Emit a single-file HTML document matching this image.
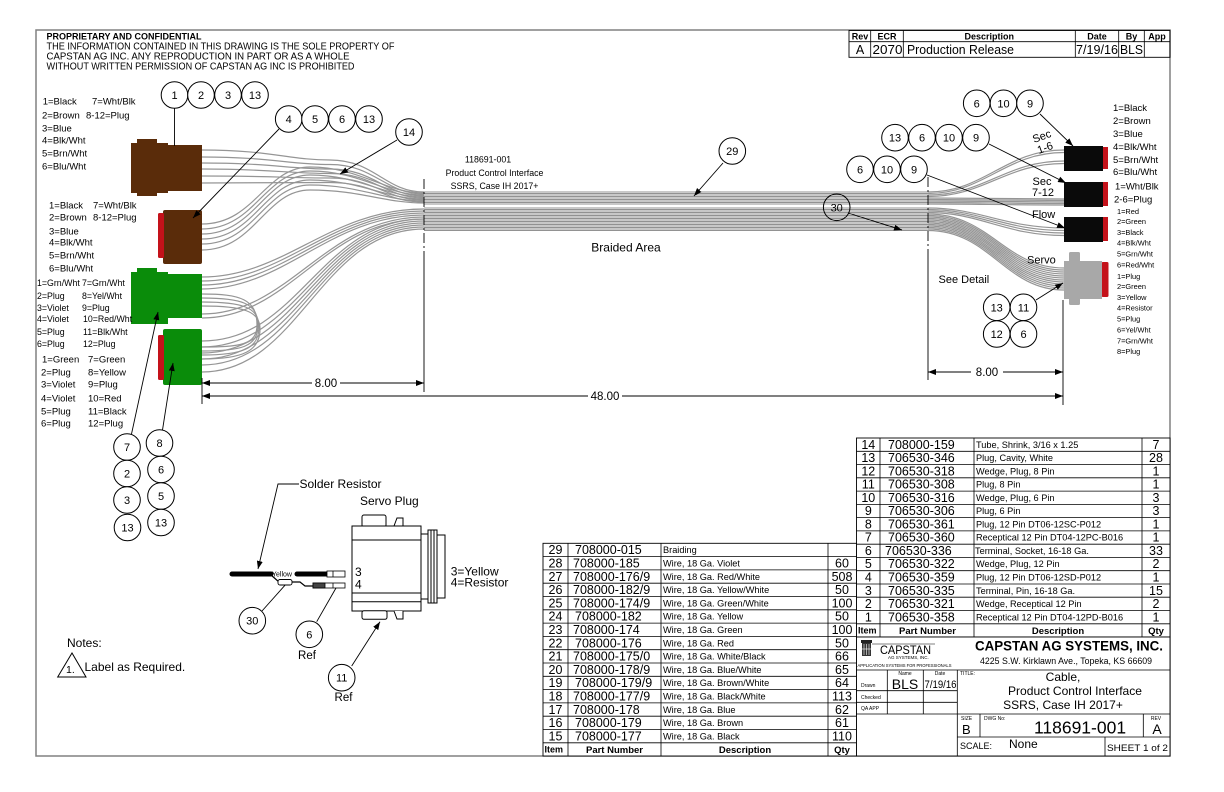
<!DOCTYPE html>
<html><head><meta charset="utf-8"><style>
html,body{margin:0;padding:0;background:#fff;}
svg{display:block;}
text{font-family:"Liberation Sans",Arial,sans-serif;fill:#000;}
.b{fill:#fff;stroke:#000;stroke-width:1}
.bt{font-size:11px;text-anchor:middle}
.w{fill:none;stroke:#959595;stroke-width:1.2}
.wb{fill:none;stroke:#929292;stroke-width:1}
.ln{stroke:#000;stroke-width:0.9;fill:none}
.tl{stroke:#000;stroke-width:0.8}
.pn{font-size:12.5px}
.ds{font-size:9.2px}
.qc{font-size:12.5px;text-anchor:middle}
.hd{font-size:9.5px;font-weight:bold}
.lb{font-size:9.5px}
.sm{font-size:7.4px}
</style></head><body>
<svg width="1224" height="792" viewBox="0 0 1224 792" xmlns="http://www.w3.org/2000/svg">
<defs>
<marker id="ah" markerWidth="8" markerHeight="6" refX="8" refY="3" orient="auto" markerUnits="userSpaceOnUse"><path d="M0,0 L8,3 L0,6 Z" fill="#000"/></marker>
</defs>

<!-- border -->
<rect x="36" y="30" width="1134" height="726" fill="none" stroke="#808080" stroke-width="1.5"/>

<!-- header text -->
<text x="46.5" y="39.5" font-size="9.5" font-weight="bold" textLength="155" lengthAdjust="spacingAndGlyphs">PROPRIETARY AND CONFIDENTIAL</text>
<text x="46.5" y="49.5" font-size="10" textLength="348" lengthAdjust="spacingAndGlyphs">THE INFORMATION CONTAINED IN THIS DRAWING IS THE SOLE PROPERTY OF</text>
<text x="46.5" y="59.5" font-size="10" textLength="303" lengthAdjust="spacingAndGlyphs">CAPSTAN AG INC. ANY REPRODUCTION IN PART OR AS A WHOLE</text>
<text x="46.5" y="69.5" font-size="10" textLength="308" lengthAdjust="spacingAndGlyphs">WITHOUT WRITTEN PERMISSION OF CAPSTAN AG INC IS PROHIBITED</text>

<!-- rev table -->
<rect x="849" y="30.5" width="321" height="26.8" fill="none" stroke="#000" stroke-width="0.9"/>
<line class="tl" x1="849" y1="41.7" x2="1170" y2="41.7"/>
<line class="tl" x1="870.7" y1="30.5" x2="870.7" y2="57.3"/>
<line class="tl" x1="903.3" y1="30.5" x2="903.3" y2="57.3"/>
<line class="tl" x1="1075.3" y1="30.5" x2="1075.3" y2="57.3"/>
<line class="tl" x1="1118.7" y1="30.5" x2="1118.7" y2="57.3"/>
<line class="tl" x1="1144.3" y1="30.5" x2="1144.3" y2="57.3"/>
<g font-size="9" font-weight="bold" text-anchor="middle">
<text x="860" y="39.7">Rev</text><text x="887" y="39.7">ECR</text><text x="989.3" y="39.7">Description</text><text x="1097" y="39.7">Date</text><text x="1131.5" y="39.7">By</text><text x="1157" y="39.7">App</text>
</g>
<g font-size="12.5">
<text x="860" y="54" text-anchor="middle">A</text>
<text x="872.5" y="54" textLength="30" lengthAdjust="spacingAndGlyphs">2070</text>
<text x="907" y="54" textLength="107" lengthAdjust="spacingAndGlyphs">Production Release</text>
<text x="1076" y="54" textLength="42" lengthAdjust="spacingAndGlyphs">7/19/16</text>
<text x="1120" y="54" textLength="23" lengthAdjust="spacingAndGlyphs">BLS</text>
</g>

<!-- WIRES left fan -->
<g class="w">
<path d="M202,150 C270,150 290,160 330,160 C375,160 385,192 424,192"/>
<path d="M202,157 C270,157 290,164.5 330,164.5 C375,164.5 385,194 424,194"/>
<path d="M202,163 C270,163 290,169 330,169 C375,169 385,196 424,196"/>
<path d="M202,169 C270,169 290,173.5 330,173.5 C375,173.5 385,198 424,198"/>
<path d="M202,176 C270,176 290,178 330,178 C375,178 385,200 424,200"/>
<path d="M202,183 C270,183 290,182.5 330,182.5 C375,182.5 385,202 424,202"/>
<path d="M202,224 C255,224 265,167 310,167 C360,167 385,193 424,193"/>
<path d="M202,229 C255,229 265,171 310,171 C360,171 385,195 424,195"/>
<path d="M202,234 C255,234 265,175 310,175 C360,175 385,197 424,197"/>
<path d="M202,239 C255,239 265,180 310,180 C360,180 385,199 424,199"/>
<path d="M202,244 C255,244 265,185 310,185 C360,185 385,201 424,201"/>
<path d="M202,250 C255,250 265,190 310,190 C360,190 385,203 424,203"/>
<path d="M202,277 C285,277 330,209 424,209"/>
<path d="M202,281 C285,281 330,211 424,211"/>
<path d="M202,285 C285,285 330,213 424,213"/>
<path d="M202,289 C285,289 330,215 424,215"/>
<path d="M202,314 C290,314 325,217 424,217"/>
<path d="M202,318 C290,318 325,219 424,219"/>
<path d="M202,294 C240,294 257,299 257,325 C257,345 240,347 202,347"/>
<path d="M202,298 C241,298 258,303 258,325 C258,347 241,351 202,351"/>
<path d="M202,302 C242,302 259,307 259,327 C259,349 242,355 202,355"/>
<path d="M202,306 C243,306 260,311 260,329 C260,351 243,359 202,359"/>
<path d="M202,341 C300,341 320,219 424,219"/>
<path d="M202,347 C300,347 320,221 424,221"/>
<path d="M202,353 C300,353 320,223 424,223"/>
<path d="M202,359 C300,359 320,225 424,225"/>
<path d="M202,365 C300,365 320,227 424,227"/>
<path d="M202,372 C300,372 320,229 424,229"/>
</g>

<!-- middle bundle -->
<g class="wb">
<line x1="424" y1="192" x2="928" y2="192"/><line x1="424" y1="193.5" x2="928" y2="193.5"/><line x1="424" y1="195" x2="928" y2="195"/>
<line x1="424" y1="196.5" x2="928" y2="196.5"/><line x1="424" y1="198" x2="928" y2="198"/><line x1="424" y1="199.5" x2="928" y2="199.5"/>
<line x1="424" y1="201" x2="928" y2="201"/><line x1="424" y1="202.5" x2="928" y2="202.5"/><line x1="424" y1="204" x2="928" y2="204"/>
<line x1="424" y1="208" x2="928" y2="208"/><line x1="424" y1="209.5" x2="928" y2="209.5"/><line x1="424" y1="211" x2="928" y2="211"/>
<line x1="424" y1="212.5" x2="928" y2="212.5"/><line x1="424" y1="214" x2="928" y2="214"/><line x1="424" y1="215.5" x2="928" y2="215.5"/>
<line x1="424" y1="217" x2="928" y2="217"/><line x1="424" y1="218.5" x2="928" y2="218.5"/><line x1="424" y1="220" x2="928" y2="220"/>
<line x1="424" y1="221.5" x2="928" y2="221.5"/><line x1="424" y1="223" x2="928" y2="223"/><line x1="424" y1="224.5" x2="928" y2="224.5"/>
<line x1="424" y1="226" x2="928" y2="226"/><line x1="424" y1="227.5" x2="928" y2="227.5"/><line x1="424" y1="229" x2="928" y2="229"/>
<line x1="424" y1="230.5" x2="928" y2="230.5"/>
</g>

<!-- right fan -->
<g class="w">
<path d="M928,192 C985,192 1005,150 1064,150"/>
<path d="M928,193.5 C985,193.5 1005,152.5 1064,152.5"/>
<path d="M928,195 C985,195 1005,161 1064,161"/>
<path d="M928,196.5 C985,196.5 1005,163.5 1064,163.5"/>
<path d="M928,198 L1064,199"/>
<path d="M928,199.5 L1064,200.5"/>
<path d="M928,201 L1064,202"/>
<path d="M928,202.5 C980,202.5 1000,203.5 1064,203.5"/>
<path d="M928,204 C980,204 1000,205 1064,205"/>
<path d="M928,208 C980,208 1005,228 1064,228"/>
<path d="M928,209.5 C980,209.5 1005,230.5 1064,230.5"/>
<path d="M928,211 C980,211 1005,233 1064,233"/>
<path d="M928,212.5 C980,212.5 1005,235.5 1064,235.5"/>
<path d="M928,214 C990,214 1005,268 1064,268"/>
<path d="M928,215.5 C990,215.5 1005,270 1064,270"/>
<path d="M928,217 C990,217 1005,272 1064,272"/>
<path d="M928,218.5 C990,218.5 1005,274 1064,274"/>
<path d="M928,220 C990,220 1005,276 1064,276"/>
<path d="M928,221.5 C990,221.5 1005,278 1064,278"/>
<path d="M928,223 C990,223 1005,280 1064,280"/>
<path d="M928,224.5 C990,224.5 1005,282 1064,282"/>
<path d="M928,226 C990,226 1005,284 1064,284"/>
<path d="M928,227.5 C990,227.5 1005,286 1064,286"/>
<path d="M928,229 C990,229 1005,288 1064,288"/>
<path d="M928,230.5 C990,230.5 1005,290 1064,290"/>
</g>

<!-- left connectors -->
<g fill="#5a2c0a">
<rect x="131" y="143" width="37" height="50"/>
<rect x="137" y="139" width="20" height="5"/>
<rect x="137" y="192" width="20" height="4"/>
<rect x="167" y="145" width="35" height="46"/>
<rect x="163" y="210" width="39" height="54" rx="2"/>
</g>
<rect x="158" y="213" width="6" height="45" rx="1.5" fill="#c4121a"/>
<g fill="#0a8c0a">
<rect x="131" y="272" width="37" height="52"/>
<rect x="137" y="268" width="20" height="5"/>
<rect x="167" y="274" width="35" height="44"/>
<rect x="163" y="329" width="39" height="56" rx="2"/>
</g>
<rect x="158" y="335" width="6" height="45" rx="1.5" fill="#c4121a"/>

<!-- right connectors -->
<g fill="#0a0a0a">
<rect x="1064" y="146" width="39" height="25"/>
<rect x="1064" y="182" width="39" height="25"/>
<rect x="1064" y="217" width="39" height="25"/>
</g>
<g fill="#c4121a">
<rect x="1103" y="147" width="5" height="22"/>
<rect x="1103" y="182" width="5" height="24"/>
<rect x="1103" y="217" width="5" height="24"/>
<rect x="1101.5" y="262" width="7" height="35" rx="1.5"/>
</g>
<g fill="#a8a8a8">
<rect x="1064" y="261" width="38" height="38"/>
<rect x="1069" y="252" width="11" height="10" rx="1.5"/>
<rect x="1069" y="298" width="11" height="7" rx="1.5"/>
</g>

<!-- left labels -->
<g class="lb">
<text x="42.7" y="104.5">1=Black</text><text x="92" y="104.5">7=Wht/Blk</text>
<text x="42" y="118.5">2=Brown</text><text x="86" y="118.5">8-12=Plug</text>
<text x="42" y="131.5">3=Blue</text>
<text x="42" y="143.5">4=Blk/Wht</text>
<text x="42" y="156.5">5=Brn/Wht</text>
<text x="42" y="169.5">6=Blu/Wht</text>

<text x="49" y="208.5">1=Black</text><text x="93" y="208.5">7=Wht/Blk</text>
<text x="49" y="220.5">2=Brown</text><text x="93" y="220.5">8-12=Plug</text>
<text x="49" y="234.5">3=Blue</text>
<text x="49" y="245.5">4=Blk/Wht</text>
<text x="49" y="258.5">5=Brn/Wht</text>
<text x="49" y="271.5">6=Blu/Wht</text>
</g>
<g font-size="8.8">
<text x="37" y="286">1=Grn/Wht</text><text x="82" y="286">7=Grn/Wht</text>
<text x="37" y="299">2=Plug</text><text x="82" y="299">8=Yel/Wht</text>
<text x="37" y="311">3=Violet</text><text x="82" y="311">9=Plug</text>
<text x="37" y="322">4=Violet</text><text x="83" y="322">10=Red/Wht</text>
<text x="37" y="335">5=Plug</text><text x="83" y="335">11=Blk/Wht</text>
<text x="37" y="347">6=Plug</text><text x="83" y="347">12=Plug</text>
</g>
<g class="lb">
<text x="42" y="362.5">1=Green</text><text x="88" y="362.5">7=Green</text>
<text x="41" y="375.5">2=Plug</text><text x="88" y="375.5">8=Yellow</text>
<text x="41" y="387.5">3=Violet</text><text x="88" y="387.5">9=Plug</text>
<text x="41" y="401.5">4=Violet</text><text x="88" y="401.5">10=Red</text>
<text x="41" y="414.5">5=Plug</text><text x="88" y="414.5">11=Black</text>
<text x="41" y="426.5">6=Plug</text><text x="88" y="426.5">12=Plug</text>
</g>

<!-- right labels -->
<g class="lb">
<text x="1113" y="111">1=Black</text>
<text x="1113" y="124">2=Brown</text>
<text x="1113" y="137">3=Blue</text>
<text x="1113" y="150">4=Blk/Wht</text>
<text x="1113" y="163">5=Brn/Wht</text>
<text x="1113" y="175">6=Blu/Wht</text>
<text x="1115" y="189.5">1=Wht/Blk</text>
<text x="1114" y="202.5">2-6=Plug</text>
</g>
<g class="sm">
<text x="1117" y="213.8">1=Red</text>
<text x="1117" y="223.8">2=Green</text>
<text x="1117" y="234.8">3=Black</text>
<text x="1117" y="245.5">4=Blk/Wht</text>
<text x="1117" y="256.5">5=Grn/Wht</text>
<text x="1117" y="267.5">6=Red/Wht</text>
<text x="1117" y="278.8">1=Plug</text>
<text x="1117" y="288.8">2=Green</text>
<text x="1117" y="299.8">3=Yellow</text>
<text x="1117" y="310.5">4=Resistor</text>
<text x="1117" y="321.5">5=Plug</text>
<text x="1117" y="332.5">6=Yel/Wht</text>
<text x="1117" y="343.5">7=Grn/Wht</text>
<text x="1117" y="354">8=Plug</text>
</g>

<!-- right connector names -->
<g font-size="11">
<text x="1041.7" y="140" text-anchor="middle" transform="rotate(-20 1041.7 136)">Sec</text>
<text x="1045" y="151.5" text-anchor="middle" transform="rotate(-20 1045 147.7)">1-6</text>
<text x="1042" y="185" text-anchor="middle">Sec</text>
<text x="1043" y="196" text-anchor="middle">7-12</text>
<text x="1032" y="218">Flow</text>
<text x="1027" y="263.5">Servo</text>
<text x="938.5" y="283">See Detail</text>
</g>

<!-- center labels -->
<g font-size="8.8" text-anchor="middle">
<text x="488" y="162.5">118691-001</text>
<text x="494.5" y="176">Product Control Interface</text>
<text x="494.5" y="189">SSRS, Case IH 2017+</text>
</g>
<text x="626" y="251.5" font-size="12" text-anchor="middle">Braided Area</text>

<!-- dimension / extension lines -->
<g stroke="#000" stroke-width="0.9" fill="none">
<line x1="202" y1="378" x2="202" y2="404"/>
<line x1="424" y1="179" x2="424" y2="253" stroke-dasharray="10,3,2,3"/>
<line x1="424" y1="253" x2="424" y2="392"/>
<line x1="928" y1="177" x2="928" y2="258" stroke-dasharray="10,3,2,3"/>
<line x1="928" y1="258" x2="928" y2="380"/>
<line x1="1063" y1="300" x2="1063" y2="405"/>
<line x1="312" y1="383" x2="202" y2="383" marker-end="url(#ah)"/>
<line x1="340" y1="383" x2="424" y2="383" marker-end="url(#ah)"/>
<line x1="588" y1="396" x2="202" y2="396" marker-end="url(#ah)"/>
<line x1="622" y1="396" x2="1063" y2="396" marker-end="url(#ah)"/>
<line x1="971" y1="372" x2="928" y2="372" marker-end="url(#ah)"/>
<line x1="1003" y1="372" x2="1063" y2="372" marker-end="url(#ah)"/>
</g>
<g font-size="11.5" text-anchor="middle">
<text x="326" y="387">8.00</text>
<text x="605" y="400">48.00</text>
<text x="987" y="376">8.00</text>
</g>

<!-- leaders -->
<g stroke="#000" stroke-width="0.9" fill="none">
<line x1="174.5" y1="108" x2="174.5" y2="146"/>
<line x1="279" y1="129" x2="193" y2="218" marker-end="url(#ah)"/>
<line x1="397" y1="140" x2="340" y2="174" marker-end="url(#ah)"/>
<line x1="131.5" y1="434" x2="158" y2="312" marker-end="url(#ah)"/>
<line x1="162.5" y1="430" x2="173" y2="363" marker-end="url(#ah)"/>
<line x1="1040" y1="114" x2="1073" y2="146" marker-end="url(#ah)"/>
<line x1="989" y1="144" x2="1066" y2="183" marker-end="url(#ah)"/>
<line x1="927" y1="175" x2="1065" y2="228" marker-end="url(#ah)"/>
<line x1="1036" y1="300" x2="1063" y2="283" marker-end="url(#ah)"/>
<line x1="723" y1="163" x2="694" y2="196" marker-end="url(#ah)"/>
<line x1="848" y1="213" x2="902" y2="230" marker-end="url(#ah)"/>
<polyline points="299,484 278,484 258,569" marker-end="url(#ah)"/>
<line x1="262" y1="611" x2="286.7" y2="583.3"/>
<line x1="316.7" y1="621.7" x2="338.3" y2="584"/>
<line x1="351.7" y1="666" x2="380" y2="621.7" marker-end="url(#ah)"/>
</g>

<!-- balloons -->
<g>
<circle class="b" cx="174.5" cy="95" r="13.3"/><text class="bt" x="174.5" y="99">1</text>
<circle class="b" cx="201" cy="95" r="13.3"/><text class="bt" x="201" y="99">2</text>
<circle class="b" cx="228" cy="95" r="13.3"/><text class="bt" x="228" y="99">3</text>
<circle class="b" cx="255" cy="95" r="13.3"/><text class="bt" x="255" y="99">13</text>
<circle class="b" cx="288.7" cy="119" r="13.3"/><text class="bt" x="288.7" y="123">4</text>
<circle class="b" cx="315" cy="119" r="13.3"/><text class="bt" x="315" y="123">5</text>
<circle class="b" cx="342" cy="119" r="13.3"/><text class="bt" x="342" y="123">6</text>
<circle class="b" cx="369" cy="119" r="13.3"/><text class="bt" x="369" y="123">13</text>
<circle class="b" cx="409" cy="132" r="13.3"/><text class="bt" x="409" y="136">14</text>
<circle class="b" cx="127" cy="447" r="13.3"/><text class="bt" x="127" y="451">7</text>
<circle class="b" cx="127" cy="473.5" r="13.3"/><text class="bt" x="127" y="477.5">2</text>
<circle class="b" cx="127" cy="500" r="13.3"/><text class="bt" x="127" y="504">3</text>
<circle class="b" cx="127.5" cy="527.5" r="13.3"/><text class="bt" x="127.5" y="531.5">13</text>
<circle class="b" cx="159.5" cy="443" r="13.3"/><text class="bt" x="159.5" y="447">8</text>
<circle class="b" cx="161" cy="469.5" r="13.3"/><text class="bt" x="161" y="473.5">6</text>
<circle class="b" cx="161" cy="496" r="13.3"/><text class="bt" x="161" y="500">5</text>
<circle class="b" cx="161" cy="522.5" r="13.3"/><text class="bt" x="161" y="526.5">13</text>
<circle class="b" cx="976.7" cy="103.3" r="13.3"/><text class="bt" x="976.7" y="107.3">6</text>
<circle class="b" cx="1003.5" cy="103.3" r="13.3"/><text class="bt" x="1003.5" y="107.3">10</text>
<circle class="b" cx="1030" cy="103.3" r="13.3"/><text class="bt" x="1030" y="107.3">9</text>
<circle class="b" cx="895" cy="137.7" r="13.3"/><text class="bt" x="895" y="141.7">13</text>
<circle class="b" cx="922" cy="137.7" r="13.3"/><text class="bt" x="922" y="141.7">6</text>
<circle class="b" cx="949" cy="137.7" r="13.3"/><text class="bt" x="949" y="141.7">10</text>
<circle class="b" cx="976" cy="137.7" r="13.3"/><text class="bt" x="976" y="141.7">9</text>
<circle class="b" cx="860" cy="169.3" r="13.3"/><text class="bt" x="860" y="173.3">6</text>
<circle class="b" cx="887" cy="169.3" r="13.3"/><text class="bt" x="887" y="173.3">10</text>
<circle class="b" cx="914" cy="169.3" r="13.3"/><text class="bt" x="914" y="173.3">9</text>
<circle class="b" cx="996.7" cy="307.3" r="13.3"/><text class="bt" x="996.7" y="311.3">13</text>
<circle class="b" cx="1023.5" cy="307.3" r="13.3"/><text class="bt" x="1023.5" y="311.3">11</text>
<circle class="b" cx="996.7" cy="334" r="13.3"/><text class="bt" x="996.7" y="338">12</text>
<circle class="b" cx="1023.5" cy="334" r="13.3"/><text class="bt" x="1023.5" y="338">6</text>
<circle class="b" cx="732.3" cy="151" r="13.3"/><text class="bt" x="732.3" y="155">29</text>
<circle cx="836.7" cy="207.3" r="13.3" fill="none" stroke="#000" stroke-width="1"/><text class="bt" x="836.7" y="211.3">30</text>
<circle class="b" cx="252.3" cy="620.7" r="13.3"/><text class="bt" x="252.3" y="624.7">30</text>
<circle class="b" cx="309.3" cy="634.3" r="13.3"/><text class="bt" x="309.3" y="638.3">6</text>
<circle class="b" cx="341.7" cy="677.7" r="13.3"/><text class="bt" x="341.7" y="681.7">11</text>
</g>
<text x="307" y="659" font-size="11.5" text-anchor="middle">Ref</text>
<text x="343.5" y="701" font-size="11.5" text-anchor="middle">Ref</text>

<!-- servo plug detail -->
<text x="299.5" y="488" font-size="12">Solder Resistor</text>
<text x="360" y="505" font-size="12">Servo Plug</text>
<g stroke="#000" stroke-width="1" fill="#fff">
<rect x="362" y="515" width="24" height="12" rx="2"/>
<path d="M394,526 L397,518 L403,518 L403,526" />
<rect x="352" y="526" width="69" height="85"/>
<line x1="352" y1="540" x2="421" y2="540"/>
<line x1="352" y1="593" x2="421" y2="593"/>
<line x1="352" y1="601.7" x2="421" y2="601.7"/>
<rect x="362" y="610.7" width="25" height="8.6" rx="2"/>
<path d="M394,611 L397,619 L403,619 L403,611"/>
<rect x="421" y="534" width="7" height="65"/>
<rect x="428" y="530" width="9" height="73"/>
<line x1="431" y1="530" x2="431" y2="603"/>
<line x1="434" y1="530" x2="434" y2="603"/>
<rect x="437" y="535" width="8" height="63"/>
</g>
<line x1="232" y1="574" x2="271" y2="574" stroke="#000" stroke-width="5" stroke-linecap="round"/>
<text x="272" y="576.5" font-size="7">Yellow</text>
<line x1="297" y1="574" x2="327" y2="574" stroke="#000" stroke-width="5" stroke-linecap="round"/>
<rect x="327" y="571" width="18" height="6" fill="#fff" stroke="#000" stroke-width="0.8"/>
<line x1="333" y1="571" x2="333" y2="577" stroke="#000" stroke-width="0.8"/>
<path d="M271,575 L279,582 M292,582 L300,582 L305,586 L313,586" stroke="#000" stroke-width="1.2" fill="none"/>
<rect x="278" y="579.5" width="14" height="5.5" rx="2" fill="#fff" stroke="#000" stroke-width="0.9"/>
<rect x="313" y="583" width="32" height="5" fill="#fff" stroke="#000" stroke-width="0.8"/>
<rect x="313" y="583" width="12" height="5" fill="#444" stroke="#000" stroke-width="0.8"/>
<line x1="333" y1="583" x2="333" y2="588" stroke="#000" stroke-width="0.8"/>
<text x="355" y="576" font-size="12">3</text>
<text x="355" y="588.5" font-size="12">4</text>
<text x="450.7" y="575.5" font-size="12">3=Yellow</text>
<text x="450.7" y="586.7" font-size="12">4=Resistor</text>

<!-- notes -->
<text x="67" y="647" font-size="12">Notes:</text>
<path d="M57.7,677 L72,653 L86,677 Z" fill="none" stroke="#000" stroke-width="1"/>
<text x="66" y="673" font-size="10.5">1.</text>
<text x="84.5" y="671" font-size="12">Label as Required.</text>

<!-- RIGHT BOM TABLE -->
<g>
<rect x="856.5" y="438" width="313.5" height="199" fill="#fff" stroke="#000" stroke-width="0.9"/>
<g class="tl">
<line x1="856.5" y1="451.3" x2="1170" y2="451.3"/><line x1="856.5" y1="464.5" x2="1170" y2="464.5"/>
<line x1="856.5" y1="477.8" x2="1170" y2="477.8"/><line x1="856.5" y1="491.1" x2="1170" y2="491.1"/>
<line x1="856.5" y1="504.4" x2="1170" y2="504.4"/><line x1="856.5" y1="517.6" x2="1170" y2="517.6"/>
<line x1="856.5" y1="530.9" x2="1170" y2="530.9"/><line x1="856.5" y1="544.2" x2="1170" y2="544.2"/>
<line x1="856.5" y1="557.4" x2="1170" y2="557.4"/><line x1="856.5" y1="570.7" x2="1170" y2="570.7"/>
<line x1="856.5" y1="584" x2="1170" y2="584"/><line x1="856.5" y1="597.2" x2="1170" y2="597.2"/>
<line x1="856.5" y1="610.5" x2="1170" y2="610.5"/><line x1="856.5" y1="623.8" x2="1170" y2="623.8"/>
<line x1="880" y1="438" x2="880" y2="637"/><line x1="974" y1="438" x2="974" y2="637"/><line x1="1142" y1="438" x2="1142" y2="637"/>
</g>
<g class="qc">
<text x="868.3" y="448.8">14</text><text x="868.3" y="462.1">13</text><text x="868.3" y="475.4">12</text><text x="868.3" y="488.6">11</text>
<text x="868.3" y="501.9">10</text><text x="868.3" y="515.2">9</text><text x="868.3" y="528.4">8</text><text x="868.3" y="541.7">7</text>
<text x="868.3" y="555">6</text><text x="868.3" y="568.2">5</text><text x="868.3" y="581.5">4</text><text x="868.3" y="594.8">3</text>
<text x="868.3" y="608">2</text><text x="868.3" y="621.3">1</text>
</g>
<g class="pn">
<text x="888" y="448.8">708000-159</text><text x="888" y="462.1">706530-346</text><text x="888" y="475.4">706530-318</text><text x="888" y="488.6">706530-308</text>
<text x="888" y="501.9">706530-316</text><text x="888" y="515.2">706530-306</text><text x="888" y="528.4">706530-361</text><text x="888" y="541.7">706530-360</text>
<text x="885" y="555">706530-336</text><text x="888" y="568.2">706530-322</text><text x="888" y="581.5">706530-359</text><text x="888" y="594.8">706530-335</text>
<text x="888" y="608">706530-321</text><text x="888" y="621.3">706530-358</text>
</g>
<g class="ds">
<text x="976" y="447.8">Tube, Shrink, 3/16 x 1.25</text>
<text x="976" y="461.1">Plug, Cavity, White</text>
<text x="976" y="474.4">Wedge, Plug, 8 Pin</text>
<text x="976" y="487.6">Plug, 8 Pin</text>
<text x="976" y="500.9">Wedge, Plug, 6 Pin</text>
<text x="976" y="514.2">Plug, 6 Pin</text>
<text x="976" y="527.4">Plug, 12 Pin DT06-12SC-P012</text>
<text x="976" y="540.7">Receptical 12 Pin DT04-12PC-B016</text>
<text x="975" y="554">Terminal, Socket, 16-18 Ga.</text>
<text x="976" y="567.2">Wedge, Plug, 12 Pin</text>
<text x="976" y="580.5">Plug, 12 Pin DT06-12SD-P012</text>
<text x="976" y="593.8">Terminal, Pin, 16-18 Ga.</text>
<text x="976" y="607">Wedge, Receptical 12 Pin</text>
<text x="976" y="620.3">Receptical 12 Pin DT04-12PD-B016</text>
</g>
<g class="qc">
<text x="1156" y="448.8">7</text><text x="1156" y="462.1">28</text><text x="1156" y="475.4">1</text><text x="1156" y="488.6">1</text>
<text x="1156" y="501.9">3</text><text x="1156" y="515.2">3</text><text x="1156" y="528.4">1</text><text x="1156" y="541.7">1</text>
<text x="1156" y="555">33</text><text x="1156" y="568.2">2</text><text x="1156" y="581.5">1</text><text x="1156" y="594.8">15</text>
<text x="1156" y="608">2</text><text x="1156" y="621.3">1</text>
</g>
<text x="858" y="633.6" font-size="9" font-weight="bold">Item</text>
<text x="927.5" y="633.8" class="hd" text-anchor="middle">Part Number</text>
<text x="1058" y="633.8" class="hd" text-anchor="middle">Description</text>
<text x="1156" y="633.8" class="hd" text-anchor="middle">Qty</text>
</g>

<!-- LEFT BOM TABLE -->
<g>
<rect x="543" y="543.3" width="313.5" height="212.7" fill="#fff" stroke="#000" stroke-width="0.9"/>
<g class="tl">
<line x1="543" y1="556.6" x2="856.5" y2="556.6"/><line x1="543" y1="569.9" x2="856.5" y2="569.9"/>
<line x1="543" y1="583.2" x2="856.5" y2="583.2"/><line x1="543" y1="596.5" x2="856.5" y2="596.5"/>
<line x1="543" y1="609.8" x2="856.5" y2="609.8"/><line x1="543" y1="623.1" x2="856.5" y2="623.1"/>
<line x1="543" y1="636.4" x2="856.5" y2="636.4"/><line x1="543" y1="649.7" x2="856.5" y2="649.7"/>
<line x1="543" y1="663" x2="856.5" y2="663"/><line x1="543" y1="676.3" x2="856.5" y2="676.3"/>
<line x1="543" y1="689.6" x2="856.5" y2="689.6"/><line x1="543" y1="702.9" x2="856.5" y2="702.9"/>
<line x1="543" y1="716.2" x2="856.5" y2="716.2"/><line x1="543" y1="729.5" x2="856.5" y2="729.5"/>
<line x1="543" y1="742.8" x2="856.5" y2="742.8"/>
<line x1="568" y1="543.3" x2="568" y2="756"/><line x1="661" y1="543.3" x2="661" y2="756"/><line x1="828" y1="543.3" x2="828" y2="756"/>
</g>
<g class="qc">
<text x="555.5" y="554.2">29</text><text x="555.5" y="567.5">28</text><text x="555.5" y="580.8">27</text><text x="555.5" y="594.1">26</text>
<text x="555.5" y="607.4">25</text><text x="555.5" y="620.7">24</text><text x="555.5" y="634">23</text><text x="555.5" y="647.3">22</text>
<text x="555.5" y="660.6">21</text><text x="555.5" y="673.9">20</text><text x="555.5" y="687.2">19</text><text x="555.5" y="700.5">18</text>
<text x="555.5" y="713.8">17</text><text x="555.5" y="727.1">16</text><text x="555.5" y="740.4">15</text>
</g>
<g class="pn">
<text x="575" y="554.2">708000-015</text><text x="573" y="567.5">708000-185</text><text x="573" y="580.8">708000-176/9</text><text x="573" y="594.1">708000-182/9</text>
<text x="573" y="607.4">708000-174/9</text><text x="575" y="620.7">708000-182</text><text x="573" y="634">708000-174</text><text x="575" y="647.3">708000-176</text>
<text x="573" y="660.6">708000-175/0</text><text x="573" y="673.9">708000-178/9</text><text x="575" y="687.2">708000-179/9</text><text x="573" y="700.5">708000-177/9</text>
<text x="573" y="713.8">708000-178</text><text x="575" y="727.1">708000-179</text><text x="575" y="740.4">708000-177</text>
</g>
<g class="ds">
<text x="663" y="553.2">Braiding</text>
<text x="663" y="566.5">Wire, 18 Ga. Violet</text>
<text x="663" y="579.8">Wire, 18 Ga. Red/White</text>
<text x="663" y="593.1">Wire, 18 Ga. Yellow/White</text>
<text x="663" y="606.4">Wire, 18 Ga. Green/White</text>
<text x="663" y="619.7">Wire, 18 Ga. Yellow</text>
<text x="663" y="633">Wire, 18 Ga. Green</text>
<text x="663" y="646.3">Wire, 18 Ga. Red</text>
<text x="663" y="659.6">Wire, 18 Ga. White/Black</text>
<text x="663" y="672.9">Wire, 18 Ga. Blue/White</text>
<text x="663" y="686.2">Wire, 18 Ga. Brown/White</text>
<text x="663" y="699.5">Wire, 18 Ga. Black/White</text>
<text x="663" y="712.8">Wire, 18 Ga. Blue</text>
<text x="663" y="726.1">Wire, 18 Ga. Brown</text>
<text x="663" y="739.4">Wire, 18 Ga. Black</text>
</g>
<g class="qc">
<text x="842" y="567.5">60</text><text x="842" y="580.8">508</text><text x="842" y="594.1">50</text>
<text x="842" y="607.4">100</text><text x="842" y="620.7">50</text><text x="842" y="634">100</text><text x="842" y="647.3">50</text>
<text x="842" y="660.6">66</text><text x="842" y="673.9">65</text><text x="842" y="687.2">64</text><text x="842" y="700.5">113</text>
<text x="842" y="713.8">62</text><text x="842" y="727.1">61</text><text x="842" y="740.4">110</text>
</g>
<text x="544.5" y="752.7" font-size="9" font-weight="bold">Item</text>
<text x="614.5" y="752.9" class="hd" text-anchor="middle">Part Number</text>
<text x="745" y="752.9" class="hd" text-anchor="middle">Description</text>
<text x="842" y="752.9" class="hd" text-anchor="middle">Qty</text>
</g>

<!-- TITLE BLOCK -->
<g>
<rect x="856.5" y="637" width="313.5" height="119" fill="#fff" stroke="#000" stroke-width="0.9"/>
<g class="tl">
<line x1="856.5" y1="670" x2="1170" y2="670"/>
<line x1="957.3" y1="670" x2="957.3" y2="756"/>
<line x1="887.3" y1="670" x2="887.3" y2="714"/>
<line x1="923.3" y1="670" x2="923.3" y2="714"/>
<line x1="856.5" y1="690.7" x2="957.3" y2="690.7"/>
<line x1="856.5" y1="702.3" x2="957.3" y2="702.3"/>
<line x1="856.5" y1="714" x2="1170" y2="714"/>
<line x1="980" y1="714" x2="980" y2="737"/>
<line x1="1143.3" y1="714" x2="1143.3" y2="737"/>
<line x1="957.3" y1="737" x2="1170" y2="737"/>
<line x1="1105" y1="737" x2="1105" y2="756"/>
</g>
<!-- logo -->
<rect x="861" y="640" width="11" height="3" fill="#222"/>
<rect x="862" y="643" width="9" height="13" fill="#333"/>
<g stroke="#fff" stroke-width="0.6">
<line x1="864" y1="644" x2="864" y2="655"/><line x1="866.5" y1="644" x2="866.5" y2="655"/><line x1="869" y1="644" x2="869" y2="655"/>
<line x1="862" y1="649" x2="871" y2="649"/>
</g>
<line x1="872" y1="644" x2="935" y2="644" stroke="#000" stroke-width="0.6"/>
<text x="880" y="654" font-family="Liberation Serif, serif" font-size="11.5" textLength="51" lengthAdjust="spacingAndGlyphs">CAPSTAN</text>
<text x="888" y="659" font-family="Liberation Serif, serif" font-size="4.5">AG SYSTEMS, INC.</text>
<text x="857.5" y="667" font-size="4.5" textLength="94" lengthAdjust="spacingAndGlyphs">APPLICATION SYSTEMS FOR PROFESSIONALS</text>
<text x="1069" y="650.5" font-size="14" font-weight="bold" text-anchor="middle" textLength="188" lengthAdjust="spacingAndGlyphs">CAPSTAN AG SYSTEMS, INC.</text>
<text x="1066" y="664" font-size="9" text-anchor="middle" textLength="172" lengthAdjust="spacingAndGlyphs">4225 S.W. Kirklawn Ave., Topeka, KS 66609</text>
<g font-size="5">
<text x="905" y="675" text-anchor="middle">Name</text>
<text x="940" y="675" text-anchor="middle">Date</text>
<text x="861" y="687">Drawn</text>
<text x="861" y="699">Checked</text>
<text x="861" y="710">QA APP</text>
<text x="960" y="675">TITLE:</text>
<text x="961" y="720">SIZE</text>
<text x="984" y="720">DWG No:</text>
<text x="1156" y="720" text-anchor="middle">REV</text>
</g>
<text x="905" y="689" font-size="14" text-anchor="middle">BLS</text>
<text x="940.5" y="688" font-size="11" text-anchor="middle" textLength="32" lengthAdjust="spacingAndGlyphs">7/19/16</text>
<text x="1063" y="681" font-size="12" text-anchor="middle">Cable,</text>
<text x="1075" y="695" font-size="12" text-anchor="middle" textLength="134" lengthAdjust="spacingAndGlyphs">Product Control Interface</text>
<text x="1063" y="709" font-size="12" text-anchor="middle">SSRS, Case IH 2017+</text>
<text x="962" y="734" font-size="13">B</text>
<text x="1080" y="733.5" font-size="17.5" text-anchor="middle">118691-001</text>
<text x="1157" y="734" font-size="14" text-anchor="middle">A</text>
<text x="960" y="749" font-size="9">SCALE:</text>
<text x="1009" y="748" font-size="12">None</text>
<text x="1107" y="751" font-size="9" textLength="61" lengthAdjust="spacingAndGlyphs">SHEET 1 of 2</text>
</g>
</svg>
</body></html>
